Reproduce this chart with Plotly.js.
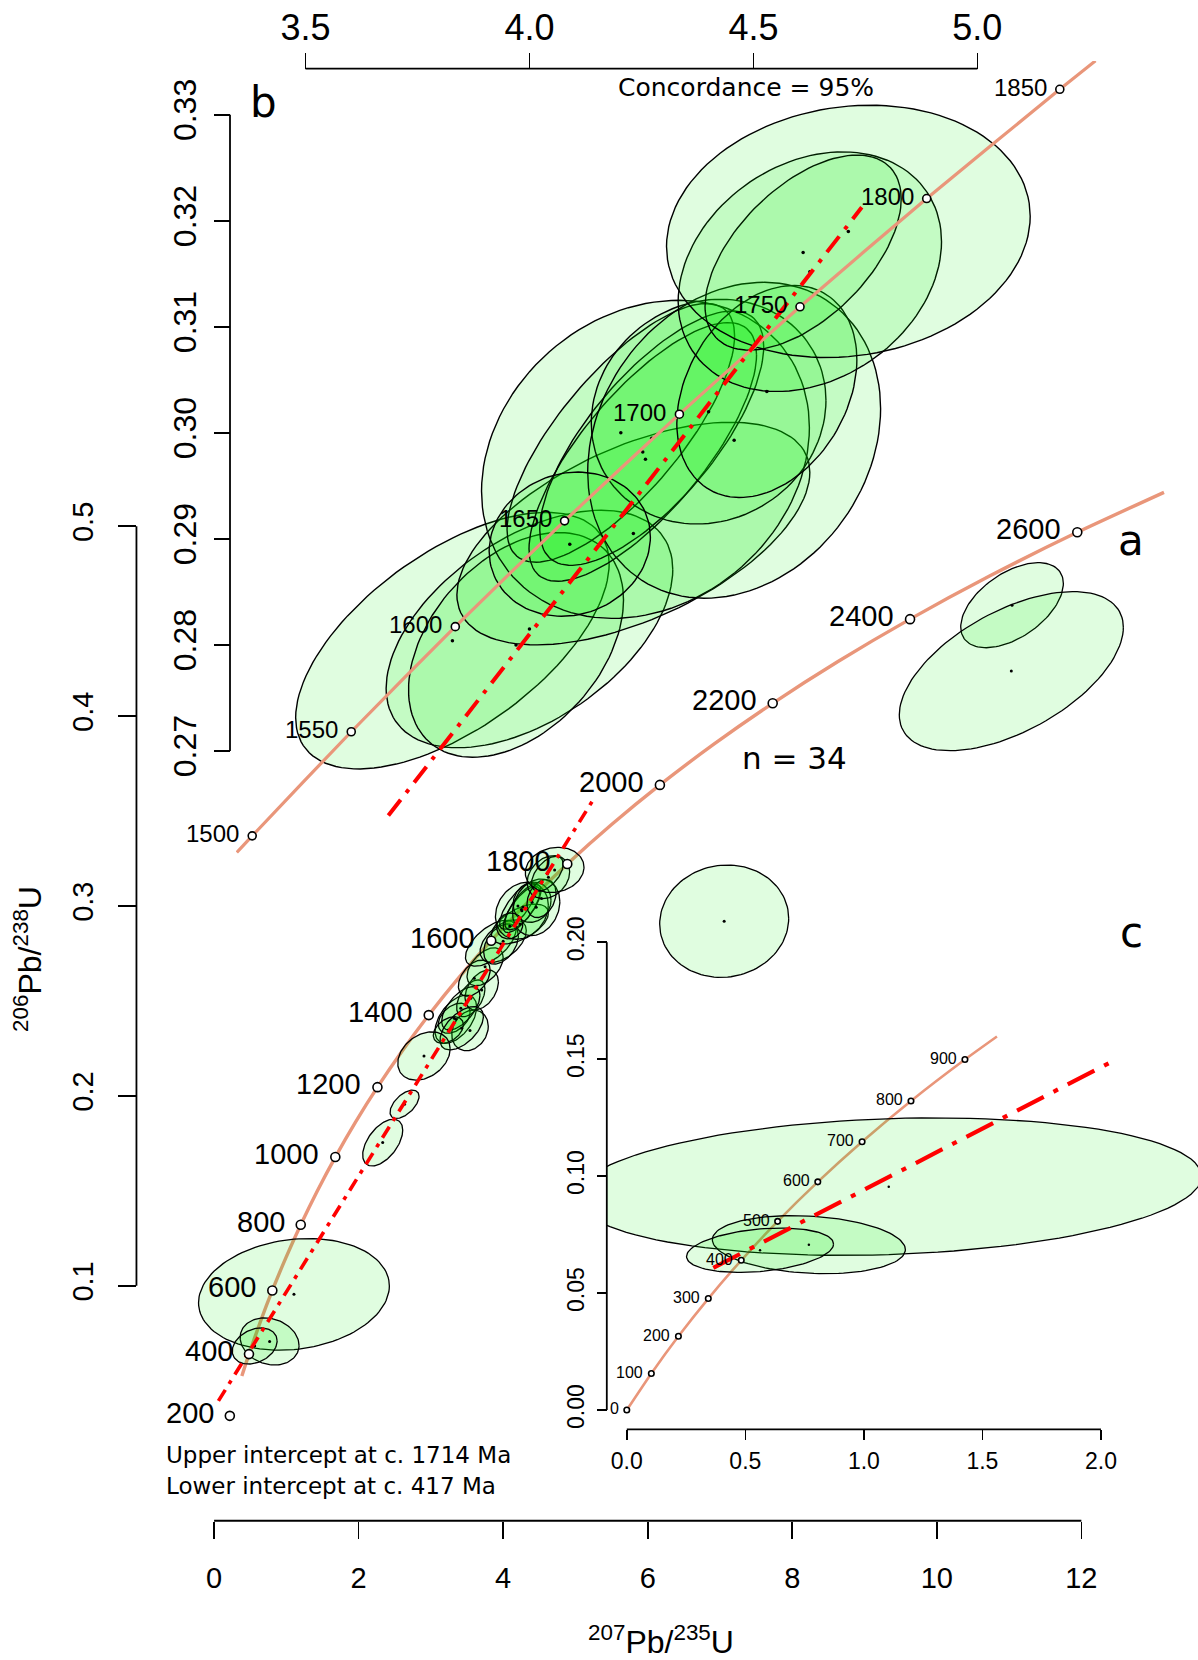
<!DOCTYPE html>
<html>
<head>
<meta charset="utf-8">
<script src="https://cdn.plot.ly/plotly-3.0.1.min.js"></script>
<style>html,body{margin:0;padding:0;background:#fff;}#chart{width:1198px;height:1660px;}</style>
</head>
<body>
<div id="chart"></div>
<script>
// ---------------- DATA ----------------
// Panel a: concordia curve (207Pb/235U, 206Pb/238U)
const concA_x = [0.38403, 0.48281, 0.63628, 0.80563, 0.99251, 1.19873, 1.42630, 1.67741, 1.95452, 2.26030, 2.59774, 2.97010, 3.38099, 3.83442, 4.33477, 4.88691, 5.49614, 6.16852, 6.91045, 7.72914, 8.63260, 9.62958, 10.72964, 11.94371, 13.1434];
const concA_y = [0.05252, 0.06402, 0.08065, 0.09754, 0.11470, 0.13213, 0.14983, 0.16780, 0.18606, 0.20460, 0.22344, 0.24256, 0.26199, 0.28172, 0.30176, 0.32210, 0.34277, 0.36377, 0.38509, 0.40674, 0.42873, 0.45107, 0.47376, 0.49679, 0.51784];
const markA_age = ['200','400','600','800','1000','1200','1400','1600','1800','2000','2200','2400','2600'];
const markA_x = [0.21771, 0.48281, 0.80563, 1.19873, 1.67741, 2.26030, 2.97010, 3.83442, 4.88691, 6.16852, 7.72914, 9.62958, 11.94371];
const markA_y = [0.03151, 0.06402, 0.09754, 0.13213, 0.16780, 0.20460, 0.24256, 0.28172, 0.32210, 0.36377, 0.40674, 0.45107, 0.49679];
const discA_x = [0.06, 5.24];
const discA_y = [0.0394, 0.3556];

// Panel b: concordia segment
const concB_x = [3.34661, 3.38099, 3.60212, 3.83442, 4.07841, 4.33477, 4.60405, 4.88691, 5.18410, 5.26376];
const concB_y = [0.26042, 0.26199, 0.27181, 0.28172, 0.29170, 0.30176, 0.31189, 0.32210, 0.33240, 0.33509];
const markB_age = ['1500','1550','1600','1650','1700','1750','1800','1850'];
const markB_x = [3.38099, 3.60212, 3.83442, 4.07841, 4.33477, 4.60405, 4.88691, 5.18410];
const markB_y = [0.26199, 0.27181, 0.28172, 0.29170, 0.30176, 0.31189, 0.32210, 0.33240];
const discB_x = [3.685, 4.742];
const discB_y = [0.2639, 0.32127];

// Panel c: concordia segment
const concC_x = [0, 0.10350, 0.21771, 0.34374, 0.48281, 0.63628, 0.80563, 0.99251, 1.19873, 1.42630, 1.56134];
const concC_y = [0, 0.01563, 0.03151, 0.04764, 0.06402, 0.08065, 0.09754, 0.11470, 0.13213, 0.14983, 0.15968];
const markC_age = ['0','100','200','300','400','500','600','700','800','900'];
const markC_x = [0, 0.10350, 0.21771, 0.34374, 0.48281, 0.63628, 0.80563, 0.99251, 1.19873, 1.42630];
const markC_y = [0, 0.01563, 0.03151, 0.04764, 0.06402, 0.08065, 0.09754, 0.11470, 0.13213, 0.14983];
const discC_x = [0.365, 2.062];
const discC_y = [0.0608, 0.1498];

// Analyses (error ellipses): centre, half-widths, correlation
// main cluster (shown in a and b)
const clX   = [3.828, 4.000, 3.970, 4.232, 4.259, 4.204, 4.253, 4.273, 4.400, 4.457, 4.530, 4.626, 4.611, 4.712, 4.090];
const clY   = [0.2804, 0.2815, 0.2800, 0.2905, 0.2975, 0.3000, 0.2982, 0.2995, 0.3020, 0.2993, 0.3039, 0.3152, 0.3170, 0.3190, 0.2895];
const clSX  = [0.350, 0.320, 0.240, 0.394, 0.366, 0.254, 0.254, 0.250, 0.262, 0.327, 0.201, 0.294, 0.219, 0.406, 0.180];
const clSY  = [0.0121, 0.0112, 0.0106, 0.0105, 0.0150, 0.0122, 0.0122, 0.0120, 0.0106, 0.0149, 0.0100, 0.0113, 0.0092, 0.0119, 0.0068];
const clRho = [0.60, 0.50, 0.40, 0.55, 0.20, 0.75, 0.75, 0.72, 0.10, 0.20, 0.30, 0.25, 0.55, 0.12, 0.10];
// other analyses (shown in a only)
const otX   = [3.345, 3.322, 3.541, 3.552, 3.703, 3.414, 3.241, 3.426, 3.750, 3.600, 2.904, 2.635, 2.333, 7.058, 11.041, 11.031];
const otY   = [0.2404, 0.2409, 0.2345, 0.2514, 0.2558, 0.2461, 0.2347, 0.2356, 0.2680, 0.2620, 0.2210, 0.1956, 0.1754, 0.2920, 0.4584, 0.4237];
const otSX  = [0.288, 0.220, 0.253, 0.196, 0.231, 0.265, 0.208, 0.300, 0.250, 0.220, 0.3625, 0.2006, 0.277, 0.8925, 0.710, 1.550];
const otSY  = [0.0127, 0.0079, 0.0107, 0.0097, 0.0105, 0.0114, 0.0070, 0.0114, 0.0100, 0.0095, 0.0127, 0.00745, 0.0123, 0.0296, 0.0224, 0.0419];
const otRho = [0.50, 0.40, 0.20, 0.50, 0.40, 0.60, 0.40, 0.55, 0.50, 0.45, 0.30, 0.56, 0.53, 0.05, 0.51, 0.55];
// young discordant analyses (shown in a and c)
const ygX   = [1.105, 0.768, 0.562];
const ygY   = [0.0955, 0.0707, 0.0683];
const ygSX  = [1.32, 0.407, 0.310];
const ygSY  = [0.0294, 0.0124, 0.0095];
const ygRho = [0.15, -0.17, 0.28];

// ticks
const tickA_x = [0, 2, 4, 6, 8, 10, 12];
const tickA_y = [0.1, 0.2, 0.3, 0.4, 0.5];
const tickB_x = [3.5, 4.0, 4.5, 5.0];
const tickB_xt = ['3.5', '4.0', '4.5', '5.0'];
const tickB_y = [0.27, 0.28, 0.29, 0.30, 0.31, 0.32, 0.33];
const tickB_yt = ['0.27', '0.28', '0.29', '0.30', '0.31', '0.32', '0.33'];
const tickC_x = [0, 0.5, 1.0, 1.5, 2.0];
const tickC_xt = ['0.0', '0.5', '1.0', '1.5', '2.0'];
const tickC_y = [0, 0.05, 0.10, 0.15, 0.20];
const tickC_yt = ['0.00', '0.05', '0.10', '0.15', '0.20'];

// ---------------- STYLE ----------------
const SANS = 'Liberation Sans, Arial, sans-serif';
const NARROW = 'Liberation Sans Narrow, Arial Narrow, Liberation Sans, sans-serif';
const DEJA = 'DejaVu Sans, Verdana, sans-serif';
const CONC = '#E9967A';
const FILL = 'rgba(0,235,0,0.12)';

function ellipsePts(cx, cy, sx, sy, rho) {
  const xs = [], ys = [], n = 120, k = Math.sqrt(1 - rho * rho);
  for (let i = 0; i <= n; i++) {
    const t = 2 * Math.PI * i / n;
    xs.push(cx + sx * Math.cos(t));
    ys.push(cy + sy * (rho * Math.cos(t) + k * Math.sin(t)));
  }
  return [xs, ys];
}
function ellipseTraces(X, Y, SX, SY, R, xa, ya, lw) {
  const out = [];
  for (let i = 0; i < X.length; i++) {
    const p = ellipsePts(X[i], Y[i], SX[i], SY[i], R[i]);
    out.push({type: 'scatter', mode: 'lines', x: p[0], y: p[1], fill: 'toself', fillcolor: FILL,
      line: {color: '#000', width: lw}, xaxis: xa, yaxis: ya, hoverinfo: 'skip'});
  }
  return out;
}
function dots(X, Y, xa, ya, s) {
  return {type: 'scatter', mode: 'markers', x: X, y: Y, xaxis: xa, yaxis: ya,
    marker: {color: '#000', size: s}, hoverinfo: 'skip'};
}
function line(X, Y, xa, ya, color, w, dash, shape) {
  return {type: 'scatter', mode: 'lines', x: X, y: Y, xaxis: xa, yaxis: ya,
    line: {color: color, width: w, dash: dash || 'solid', shape: shape || 'linear', smoothing: 0.6}, hoverinfo: 'skip'};
}
function markers(X, Y, xa, ya, s) {
  return {type: 'scatter', mode: 'markers', x: X, y: Y, xaxis: xa, yaxis: ya,
    marker: {color: '#fff', size: s, line: {color: '#000', width: 1.6}}, hoverinfo: 'skip'};
}

const traces = [];
// panel a
traces.push(line(concA_x, concA_y, 'x', 'y', CONC, 3.4, 'solid', 'spline'));
traces.push(...ellipseTraces(ygX, ygY, ygSX, ygSY, ygRho, 'x', 'y', 1.3));
traces.push(...ellipseTraces(otX, otY, otSX, otSY, otRho, 'x', 'y', 1.3));
traces.push(...ellipseTraces(clX, clY, clSX, clSY, clRho, 'x', 'y', 1.3));
traces.push(dots(ygX.concat(otX, clX), ygY.concat(otY, clY), 'x', 'y', 3));
traces.push(line(discA_x, discA_y, 'x', 'y', '#FF0000', 3.6, '13px,7px,4px,7px'));
traces.push(markers(markA_x, markA_y, 'x', 'y', 9));
// panel b
traces.push(...ellipseTraces(clX, clY, clSX, clSY, clRho, 'x2', 'y2', 1.4));
traces.push(dots(clX, clY, 'x2', 'y2', 3.5));
traces.push(line(concB_x, concB_y, 'x2', 'y2', CONC, 3.2, 'solid', 'spline'));
traces.push(line(discB_x, discB_y, 'x2', 'y2', '#FF0000', 4, '20px,9px,4px,9px'));
traces.push(markers(markB_x, markB_y, 'x2', 'y2', 8));
// panel c
traces.push(line(concC_x, concC_y, 'x3', 'y3', CONC, 2.6, 'solid', 'spline'));
traces.push(...ellipseTraces(ygX, ygY, ygSX, ygSY, ygRho, 'x3', 'y3', 1.3));
traces.push(dots(ygX, ygY, 'x3', 'y3', 2.5));
traces.push(line(discC_x, discC_y, 'x3', 'y3', '#FF0000', 4.2, '30px,11px,5px,11px'));
traces.push(markers(markC_x, markC_y, 'x3', 'y3', 5.5));

// ---------------- ANNOTATIONS ----------------
const ann = [];
function ageLabels(ages, X, Y, xr, yr, size, xs, ys) {
  for (let i = 0; i < ages.length; i++) {
    ann.push({text: ages[i], x: X[i], y: Y[i], xref: xr, yref: yr, xanchor: 'right', yanchor: 'middle',
      xshift: xs, yshift: ys, showarrow: false, font: {family: SANS, size: size, color: '#000'}});
  }
}
ageLabels(markA_age, markA_x, markA_y, 'x', 'y', 29, -14, 3);
ageLabels(markB_age, markB_x, markB_y, 'x2', 'y2', 24, -11, 2);
ageLabels(markC_age, markC_x, markC_y, 'x3', 'y3', 16, -6, 1);
function txt(t, px, py, size, family, anchor) {
  ann.push({text: t, x: px / 1198, y: 1 - py / 1660, xref: 'paper', yref: 'paper', xanchor: anchor || 'center',
    yanchor: 'middle', showarrow: false, font: {family: family, size: size, color: '#000'}});
}
txt('Concordance = 95%', 745.5, 87.5, 25, DEJA);
txt('b', 263.7, 102, 42, DEJA);
txt('a', 1131, 540, 42, DEJA);
txt('c', 1131.3, 932, 42, DEJA);
txt('n = 34', 794, 758, 31, DEJA);
txt('Upper intercept at c. 1714 Ma', 164, 1454.7, 23, DEJA, 'left');
txt('Lower intercept at c. 417 Ma', 164, 1485.8, 23, DEJA, 'left');

// ---------------- AXIS LINES (from first to last tick) ----------------
const AX = {color: '#000', width: 1.8};
const shapes = [
  {type: 'line', xref: 'x', yref: 'paper', x0: tickA_x[0], x1: tickA_x[tickA_x.length - 1], y0: 0.0839, y1: 0.0839, line: AX},
  {type: 'line', xref: 'paper', yref: 'y', x0: 0.1139, x1: 0.1139, y0: tickA_y[0], y1: tickA_y[tickA_y.length - 1], line: AX},
  {type: 'line', xref: 'x2', yref: 'paper', x0: tickB_x[0], x1: tickB_x[tickB_x.length - 1], y0: 0.95861, y1: 0.95861, line: AX},
  {type: 'line', xref: 'paper', yref: 'y2', x0: 0.19199, x1: 0.19199, y0: tickB_y[0], y1: tickB_y[tickB_y.length - 1], line: AX},
  {type: 'line', xref: 'x3', yref: 'paper', x0: tickC_x[0], x1: tickC_x[tickC_x.length - 1], y0: 0.13892, y1: 0.13892, line: AX},
  {type: 'line', xref: 'paper', yref: 'y3', x0: 0.50651, x1: 0.50651, y0: tickC_y[0], y1: tickC_y[tickC_y.length - 1], line: AX}
];

function axis(o) {
  return Object.assign({showgrid: false, zeroline: false, showline: false, ticks: 'outside', tickcolor: '#000',
    tickwidth: 1.6, anchor: 'free', fixedrange: true, tickmode: 'array'}, o);
}

const layout = {
  width: 1198, height: 1660,
  margin: {l: 0, r: 0, t: 0, b: 0},
  paper_bgcolor: '#fff', plot_bgcolor: 'rgba(0,0,0,0)',
  showlegend: false, hovermode: false,
  xaxis: axis({domain: [0.1035, 1], range: [-1.2467, 13.614], position: 0.0839, tickvals: tickA_x,
    ticklen: 17, ticklabelstandoff: 14, tickfont: {family: SANS, size: 29, color: '#000'},
    title: {text: '<sup>207</sup>Pb/<sup>235</sup>U', font: {family: SANS, size: 32, color: '#000'}, standoff: 47}}),
  yaxis: axis({domain: [0, 0.8446], range: [-0.09706, 0.64127], position: 0.1139, tickvals: tickA_y,
    tickangle: -90, ticklen: 18, ticklabelstandoff: 14, tickfont: {family: SANS, size: 29, color: '#000'},
    title: {text: '<sup>206</sup>Pb/<sup>238</sup>U', font: {family: SANS, size: 32, color: '#000'}, standoff: 14}}),
  xaxis2: axis({domain: [0.197, 1], range: [3.34483, 5.49263], position: 0.95861, side: 'top', tickvals: tickB_x, ticktext: tickB_xt,
    ticklen: 16, ticklabelstandoff: -2, tickfont: {family: NARROW, size: 36, color: '#000'}}),
  yaxis2: axis({domain: [0.48434, 0.96325], range: [0.26009, 0.33507], position: 0.19199, tickvals: tickB_y, ticktext: tickB_yt,
    tickangle: -90, ticklen: 16, ticklabelstandoff: 5, tickfont: {family: NARROW, size: 32, color: '#000'}}),
  xaxis3: axis({domain: [0.50651, 1], range: [-0.08436, 2.40941], position: 0.13892, tickvals: tickC_x, ticktext: tickC_xt,
    ticklen: 10, ticklabelstandoff: 1, tickfont: {family: NARROW, size: 23, color: '#000'}}),
  yaxis3: axis({domain: [0.13892, 0.45783], range: [-0.008295, 0.21805], position: 0.50651, tickvals: tickC_y, ticktext: tickC_yt,
    tickangle: -90, ticklen: 10, ticklabelstandoff: 4, tickfont: {family: NARROW, size: 23, color: '#000'}}),
  shapes: shapes,
  annotations: ann
};

Plotly.newPlot('chart', traces, layout, {staticPlot: true, displayModeBar: false});
</script>
</body>
</html>
